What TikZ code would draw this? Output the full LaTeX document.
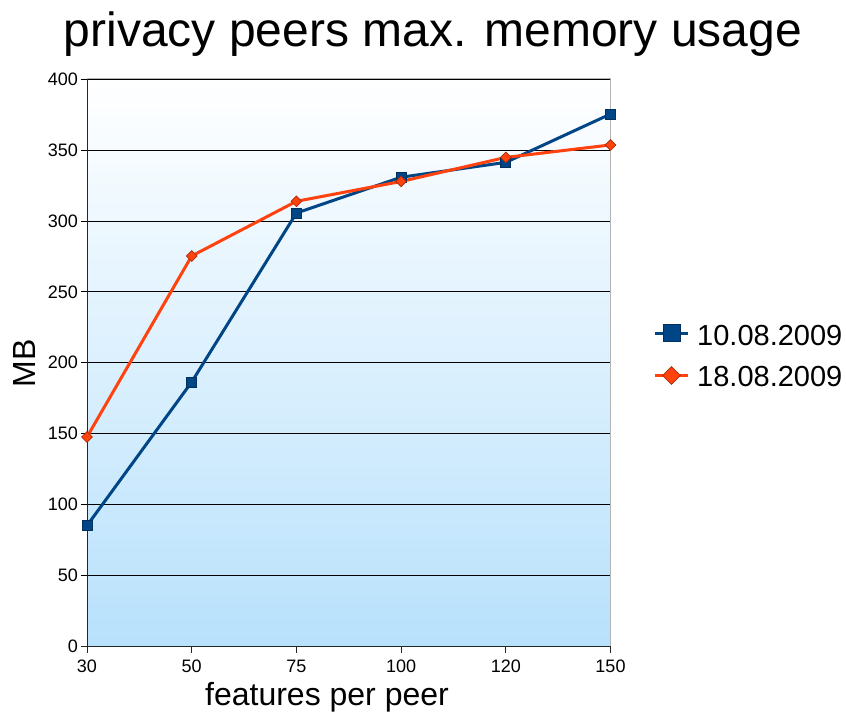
\documentclass[tikz,border=0pt]{standalone}
\usepackage{fontspec}
\setmainfont{Liberation Sans}
\usetikzlibrary{shapes.geometric}

\definecolor{seriesA}{HTML}{004586}
\definecolor{seriesAedge}{HTML}{00305E}
\definecolor{seriesB}{HTML}{FF420E}
\definecolor{seriesBedge}{HTML}{A82C09}
\definecolor{plotbottom}{RGB}{184,225,252}
\definecolor{framegray}{HTML}{B3B3B3}

\tikzset{
  gridline/.style={black, line width=0.9pt},
  axisline/.style={black!85, line width=1pt},
  lineA/.style={seriesA, line width=3pt, line join=round},
  lineB/.style={seriesB, line width=3pt, line join=round},
  sqmark/.style={rectangle, fill=seriesA, draw=seriesAedge, line width=0.8pt, minimum size=10pt, inner sep=0pt},
  dmark/.style={diamond, fill=seriesB, draw=seriesBedge, line width=0.7pt, minimum size=11pt, inner sep=0pt},
  ticklabel/.style={inner sep=0pt, font=\fontsize{18}{18}\selectfont},
  axistitle/.style={inner sep=0pt, font=\fontsize{32}{32}\selectfont},
  legendtext/.style={inner sep=0pt, anchor=west, font=\fontsize{29}{29}\selectfont},
}

\begin{document}
\begin{tikzpicture}[x=1pt,y=-1pt]
\useasboundingbox (0,0) rectangle (846,714);
\fill[white] (0,0) rectangle (846,714);

% plot area background
\shade[top color=white, bottom color=plotbottom] (87,79.5) rectangle (610.5,646);

% horizontal grid lines with their tick marks and labels
\foreach \v in {50,100,...,400} {
  \draw[gridline] (80.5,{646-\v*1.41625}) -- (610.5,{646-\v*1.41625});
  \node[ticklabel, anchor=east] (ylab\v) at (78,{646-\v*1.41625}) {\v};
}
\node[ticklabel, anchor=east] (ylab0) at (78,646) {0};
\draw[axisline] (80.5,646) -- (87,646);

% plot frame
\draw[framegray, line width=1pt] (87,78.5) -- (610.5,78.5);
\draw[framegray, line width=1pt] (610.5,79.5) -- (610.5,646);

% axes
\draw[axisline] (87,79.5) -- (87,646) -- (610.5,646);
\foreach \c [count=\i from 0] in {30,50,75,100,120,150} {
  \draw[axisline] ({87+\i*104.7},646) -- ({87+\i*104.7},652.5);
  \node[ticklabel] (xlab\c) at ({87+\i*104.7},666) {\c};
}

% data points
\foreach \v [count=\i from 0] in {85,186.4,305.7,331,341.5,375.6}
  \coordinate (a\i) at ({87+\i*104.7},{646-\v*1.41625});
\foreach \v [count=\i from 0] in {147.6,275.4,314,328,345,353.8}
  \coordinate (b\i) at ({87+\i*104.7},{646-\v*1.41625});

% series 10.08.2009
\draw[lineA] (a0) -- (a1) -- (a2) -- (a3) -- (a4) -- (a5);
% series 18.08.2009
\draw[lineB] (b0) -- (b1) -- (b2) -- (b3) -- (b4) -- (b5);

\foreach \i in {0,...,5} {
  \node[sqmark] (ma\i) at (a\i) {};
  \node[dmark] (mb\i) at (b\i) {};
}

% titles
\node[inner sep=0pt, anchor=base, font=\fontsize{48}{48}\selectfont] (title) at (433,47) {privacy peers max. memory usage};
\node[axistitle, anchor=base] (xtitle) at (327,705) {features per peer};
\node[axistitle, rotate=90] (ytitle) at (24,363.5) {MB};

% legend
\coordinate (la0) at (655,333.3);
\coordinate (la1) at (688,333.3);
\draw[lineA] (la0) -- (la1);
\node[sqmark, minimum size=17pt] (lma) at (671.5,333.3) {};
\node[legendtext] (lta) at (697,335.5) {10.08.2009};

\coordinate (lb0) at (655,375.5);
\coordinate (lb1) at (688,375.5);
\draw[lineB] (lb0) -- (lb1);
\node[dmark, minimum size=18pt] (lmb) at (671.5,375.5) {};
\node[legendtext] (ltb) at (697,377) {18.08.2009};
\end{tikzpicture}
\end{document}
